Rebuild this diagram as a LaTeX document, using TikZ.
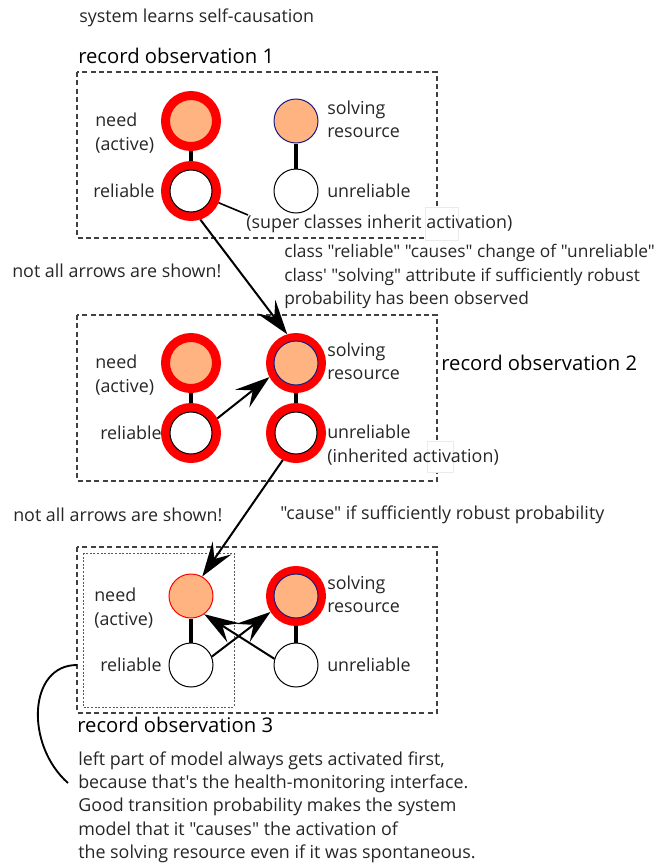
\documentclass[tikz,border=0pt]{standalone}
\usepackage{fontspec}
\newfontfamily\myfont{Open Sans}
\usetikzlibrary{arrows.meta}
\definecolor{peach}{HTML}{FFB380}
\definecolor{navyline}{HTML}{1A1A80}
\begin{document}
\begin{tikzpicture}[x=0.75pt,y=-0.75pt,
  txt/.style={font=\myfont\fontsize{13.4}{17.5}\selectfont, text=black!85, inner sep=0pt, anchor=west, align=left},
  rec/.style={font=\myfont\fontsize{15.2}{18}\selectfont, text=black, inner sep=0pt, anchor=west},
  obsbox/.style={draw=black!75, line width=0.9pt, dash pattern=on 3.75pt off 2.5pt},
  innerbox/.style={draw=black!65, line width=0.6pt, dash pattern=on 1.5pt off 1.2pt},
  redring/.style={circle, draw=red, line width=6.75pt, minimum size=38.25pt, inner sep=0pt},
  plaincirc/.style={circle, draw=black, line width=0.75pt, minimum size=33pt, inner sep=0pt, fill=white},
  innercirc/.style={circle, draw=black, line width=0.75pt, minimum size=31.5pt, inner sep=0pt, fill=white},
  link/.style={line width=3.4pt},
  arr/.style={line width=1.5pt, -{Stealth[length=26pt,width=17pt,inset=10pt]}},
  patch/.style={fill=white, draw=black!8, line width=0.5pt}
]
\useasboundingbox (0,0) rectangle (664,864);

% title
\node[txt] (title) at (79,18) {system learns self-causation};

% ---------- observation 1 ----------
\node[rec] (rec1) at (78,56) {record observation 1};
\draw[obsbox] (77,72) rectangle (437,238);
\node[redring, fill=peach] (n1) at (191,121) {};
\node[redring, fill=white] (r1) at (191,191) {};
\node[innercirc] (r1i) at (191,191) {};
\node[plaincirc, fill=peach, draw=navyline] (s1) at (296,121) {};
\node[plaincirc] (u1) at (296,191) {};
\draw[link] (n1) -- (r1);
\draw[link] (s1) -- (u1);
\node[txt] (ln1) at (95,133) {need\\(active)};
\node[txt] (lr1) at (93,191) {reliable};
\node[txt] (ls1) at (327,119.5) {solving\\resource};
\node[txt] (lu1) at (327,191) {unreliable};
\fill[patch] (425,207) rectangle (458,240);
\node[txt] (sup) at (246,224) {(super classes inherit activation)};
\coordinate (supc) at (248,215);
\draw[line width=1.2pt] (r1.-23) -- (supc);

% notes between 1 and 2
\node[txt] (note1) at (12,271) {not all arrows are shown!};
\node[txt, font=\myfont\fontsize{13}{17.5}\selectfont] (cls) at (284,276.5) {class "reliable" "causes" change of "unreliable"\\class' "solving" attribute if sufficiently robust\\probability has been observed};

% ---------- observation 2 ----------
\draw[obsbox] (77,315) rectangle (437,481);
\node[rec] (rec2) at (441,363) {record observation 2};
\node[redring, fill=peach] (n2) at (191,363) {};
\node[redring, fill=white] (r2) at (191,433) {};
\node[innercirc] (r2i) at (191,433) {};
\node[redring, fill=peach] (s2) at (296,363) {};
\node[plaincirc, fill=peach, draw=navyline] (s2i) at (296,363) {};
\node[redring, fill=white] (u2) at (296,433) {};
\node[innercirc] (u2i) at (296,433) {};
\draw[link] (n2) -- (r2);
\draw[link] (s2) -- (u2);
\node[txt] (ln2) at (95,375) {need\\(active)};
\node[txt] (lr2) at (100,433) {reliable};
\node[txt] (ls2) at (327,361.5) {solving\\resource};
\fill[patch] (427,441) rectangle (453,472);
\node[txt] (lu2) at (327,445) {unreliable\\(inherited activation)};
\draw[arr] (r2.29) -- (s2.-152);
\draw[arr] (r1.-72) -- (s2.107);

% notes between 2 and 3
\node[txt] (note2) at (13,515) {not all arrows are shown!};
\node[txt] (cause) at (280,515) {"cause" if sufficiently robust probability};

% ---------- observation 3 ----------
\draw[obsbox] (77,547) rectangle (437,713);
\draw[innerbox] (83,553) rectangle (234,707);
\node[plaincirc, fill=peach, draw=red] (n3) at (191,596) {};
\node[plaincirc] (r3) at (191,665) {};
\node[redring, fill=peach] (s3) at (296,596) {};
\node[plaincirc, fill=peach, draw=navyline] (s3i) at (296,596) {};
\node[plaincirc] (u3) at (296,665) {};
\draw[link] (n3) -- (r3);
\draw[link] (s3) -- (u3);
\node[txt] (ln3) at (94,608) {need\\(active)};
\node[txt] (lr3) at (100,665) {reliable};
\node[txt] (ls3) at (327,594) {solving\\resource};
\node[txt] (lu3) at (327,665) {unreliable};
\draw[arr] (r3.22) -- (s3.-148);
\draw[arr] (u3.164) -- (n3.-54);
\draw[arr] (u2.-116) -- (n3.60);

\node[rec] (rec3) at (77,725) {record observation 3};
\node[txt] (expl) at (78,807) {left part of model always gets activated first,\\because that's the health-monitoring interface.\\Good transition probability makes the system\\model that it "causes" the activation of\\the solving resource even if it was spontaneous.};
\coordinate (c3) at (77,665);
\coordinate (c4) at (68,783);
\draw[line width=1.4pt] (c3) .. controls (28,665) and (25,745) .. (c4);
\end{tikzpicture}
\end{document}
